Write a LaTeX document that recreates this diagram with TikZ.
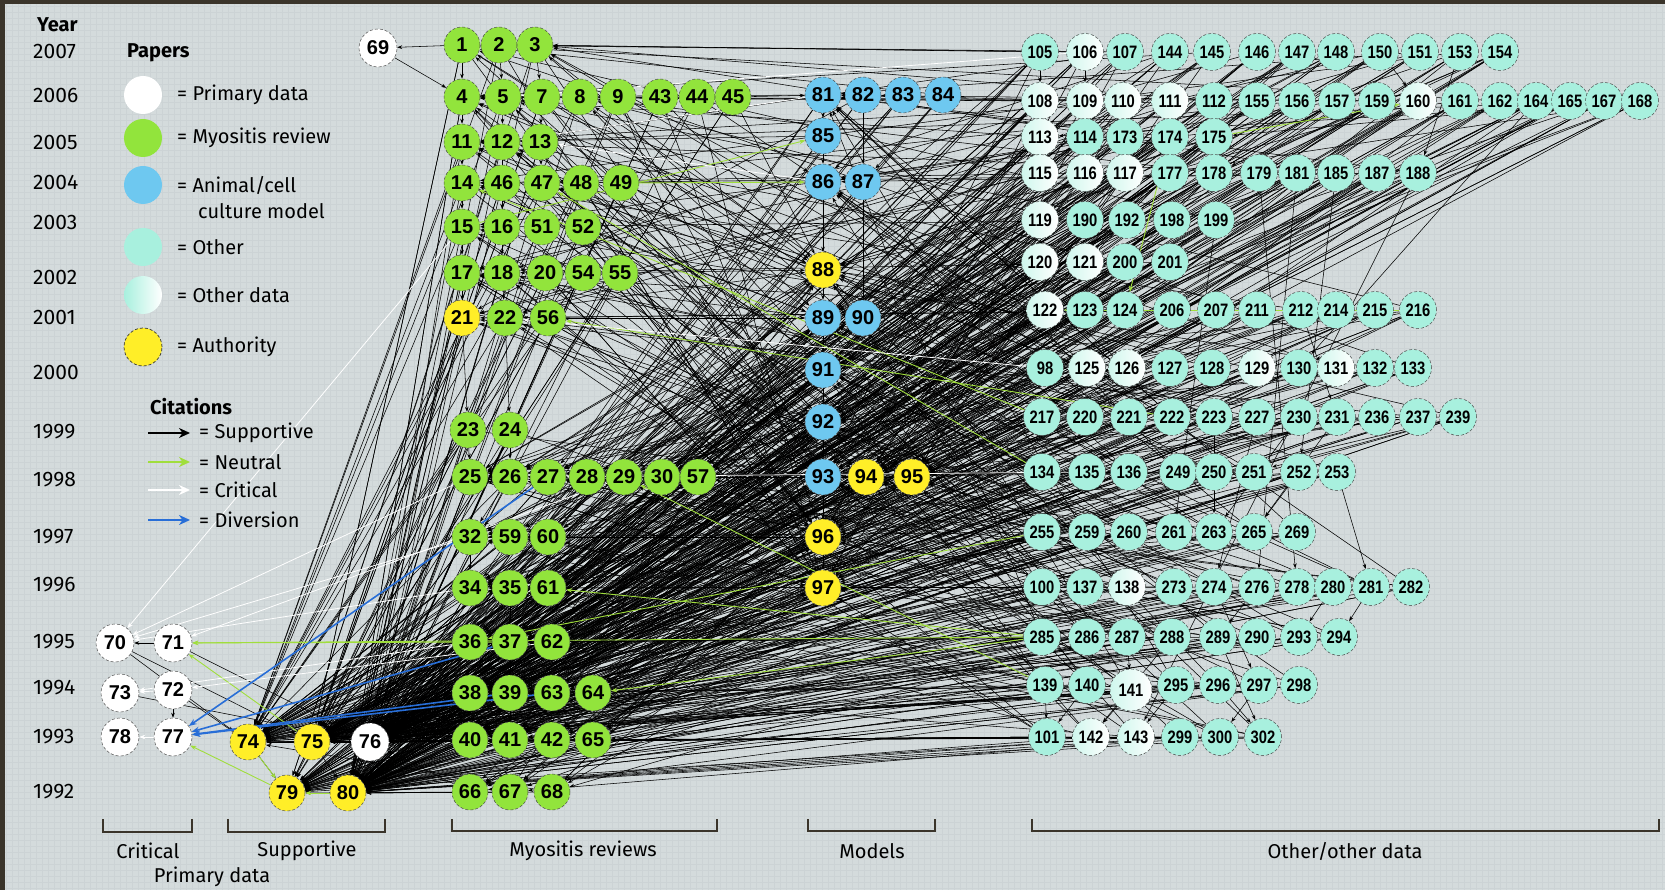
\documentclass[tikz,border=0pt]{standalone}
\usepackage{fontspec}
\setmainfont{Fira Sans}
\newfontfamily\numf{Liberation Sans}
\newfontfamily\numc{Liberation Sans}[FakeStretch=0.82]
\usetikzlibrary{arrows.meta}
\definecolor{bgc}{RGB}{212,219,220}
\definecolor{gridc}{RGB}{204,211,213}
\definecolor{framec}{RGB}{58,52,42}
\definecolor{myoc}{RGB}{146,228,60}
\definecolor{mdlc}{RGB}{110,200,240}
\definecolor{othc}{RGB}{168,240,222}
\definecolor{autc}{RGB}{255,238,40}
\definecolor{neuc}{RGB}{160,222,60}
\definecolor{divc}{RGB}{40,110,215}
\pgfdeclarelayer{bg}
\pgfdeclarelayer{edges}
\pgfsetlayers{bg,edges,main}
\newcommand\mkp[4]{\node[#1] (n#2) at (#3,#4) {#2};}
\tikzset{
  pap/.style={circle, minimum size=36pt, inner sep=0pt, draw=black!70, densely dashed, line width=0.5pt, font=\numf\bfseries\fontsize{20}{20}\selectfont},
  myo/.style={pap, fill=myoc},
  mdl/.style={pap, fill=mdlc},
  aut/.style={pap, fill=autc},
  pri/.style={pap, fill=white, minimum size=38pt},
  oth/.style={pap, fill=othc, minimum size=37pt, font=\numc\bfseries\fontsize{18}{18}\selectfont},
  odat/.style={oth, left color=othc!55, right color=white},
  sup/.style={black, line width=0.55pt, -{Stealth[length=5pt,width=3.6pt]}},
  neu/.style={neuc, line width=0.9pt, -{Stealth[length=6pt,width=4.5pt]}},
  cri/.style={white, line width=0.8pt, -{Stealth[length=6pt,width=4.5pt]}},
  dvr/.style={divc, line width=1.6pt, -{Stealth[length=8pt,width=6pt]}},
  yr/.style={anchor=west, font=\fontsize{21}{21}\selectfont, inner sep=0pt},
  lgtxt/.style={anchor=west, font=\fontsize{20}{20}\selectfont, inner sep=0pt},
  hdr/.style={anchor=west, font=\bfseries\fontsize{20}{20}\selectfont, inner sep=0pt},
  lgc/.style={circle, minimum size=38pt, inner sep=0pt},
  brk/.style={line width=1.6pt, framec},
  brl/.style={font=\fontsize{20}{20}\selectfont, inner sep=0pt},
}
\def\GL{1,2,3,4,5,7,8,9,43,44,45,11,12,13,14,46,47,48,49,15,16,51,52,17,18,20,54,55,21,22,56,23,24,25,26,27,28,29,30,57,32,59,60,34,35,61,36,37,62,38,39,63,64,40,41,42,65,66,67,68}
\def\RL{105,106,107,144,145,146,147,148,150,151,153,154,108,109,110,111,112,155,156,157,159,160,161,162,164,165,167,168,113,114,173,174,175,115,116,117,177,178,179,181,185,187,188,119,190,192,198,199,120,121,200,201,122,123,124,206,207,211,212,214,215,216,98,125,126,127,128,129,130,131,132,133,217,220,221,222,223,227,230,231,236,237,239,134,135,136,249,250,251,252,253,255,259,260,261,263,265,269,100,137,138,273,274,276,278,280,281,282,285,286,287,288,289,290,293,294,139,140,141,295,296,297,298,101,142,143,299,300,302}
\begin{document}
\begin{tikzpicture}[x=1pt,y=-1pt]
\useasboundingbox (0,0) rectangle (1665,890);
\begin{pgfonlayer}{bg}
\fill[framec] (0,0) rectangle (1665,890);
\fill[bgc] (5,4) rectangle (1665,890);
\draw[gridc, line width=0.3pt, step=6pt] (5,4) grid (1665,890);
\end{pgfonlayer}

% ---------- year axis ----------
\node[hdr] (yh) at (37,25) {Year};
\foreach \y/\v in {2007/52,2006/95,2005/142,2004/182,2003/222,2002/277,2001/317,2000/372,1999/432,1998/480,1997/537,1996/585,1995/642,1994/688,1993/737,1992/792}
  {\node[yr] (y\y) at (33,\v) {\y};}

% ---------- legend ----------
\node[hdr] (lpap) at (127,53) {Papers};
\node[lgc, fill=white] (lc1) at (143,95) {};
\node[lgc, fill=myoc] (lc2) at (143,138) {};
\node[lgc, fill=mdlc] (lc3) at (143,185) {};
\node[lgc, fill=othc] (lc4) at (143,247) {};
\node[lgc, left color=othc, right color=white] (lc5) at (143,295) {};
\node[lgc, fill=autc, draw=black!80, densely dashed, line width=0.7pt] (lc6) at (143,347) {};
\node[lgtxt] (lt1) at (177,95) {= Primary data};
\node[lgtxt] (lt2) at (177,138) {= Myositis review};
\node[lgtxt] (lt3) at (177,185) {= Animal/cell};
\node[lgtxt] (lt3b) at (198,211) {culture model};
\node[lgtxt] (lt4) at (177,247) {= Other};
\node[lgtxt] (lt5) at (177,295) {= Other data};
\node[lgtxt] (lt6) at (177,347) {= Authority};
\node[hdr] (lcit) at (150,407) {Citations};
\foreach \k/\v/\c/\t in {1/433/black/Supportive,2/462/neuc/Neutral,3/490/white/Critical,4/520/divc/Diversion}{
  \coordinate (la\k) at (148,\v);
  \coordinate (lb\k) at (190,\v);
  \draw[\c, line width=2.6pt, -{Stealth[length=11pt,width=10pt]}] (la\k) -- (lb\k);
  \node[lgtxt] (lg\k) at (199,\v) {= \t};
}

% ---------- primary data ----------
\mkp{pri}{69}{378}{48}
\mkp{pri}{70}{115}{643}
\mkp{pri}{71}{173}{643}
\mkp{pri}{73}{120}{693}
\mkp{pri}{72}{173}{690}
\mkp{pri}{78}{120}{737}
\mkp{pri}{77}{173}{737}
\mkp{aut}{74}{248}{742}
\mkp{aut}{75}{312}{742}
\mkp{pri}{76}{370}{742}
\mkp{aut}{79}{287}{793}
\mkp{aut}{80}{348}{793}

% ---------- myositis reviews ----------
\foreach \n/\x in {1/462,2/499,3/535} {\mkp{myo}{\n}{\x}{45}}
\foreach \n/\x in {4/462,5/503,7/542,8/580,9/618,43/660,44/697,45/733} {\mkp{myo}{\n}{\x}{97}}
\foreach \n/\x in {11/462,12/502,13/540} {\mkp{myo}{\n}{\x}{142}}
\foreach \n/\x in {14/462,46/502,47/542,48/581,49/621} {\mkp{myo}{\n}{\x}{183}}
\foreach \n/\x in {15/462,16/502,51/542,52/583} {\mkp{myo}{\n}{\x}{227}}
\foreach \n/\x in {17/462,18/502,20/545,54/583,55/620} {\mkp{myo}{\n}{\x}{273}}
\mkp{aut}{21}{462}{318}
\foreach \n/\x in {22/505,56/548} {\mkp{myo}{\n}{\x}{318}}
\foreach \n/\x in {23/468,24/510} {\mkp{myo}{\n}{\x}{430}}
\foreach \n/\x in {25/470,26/510,27/548,28/587,29/624,30/662,57/698} {\mkp{myo}{\n}{\x}{477}}
\foreach \n/\x in {32/470,59/510,60/548} {\mkp{myo}{\n}{\x}{537}}
\foreach \n/\x in {34/470,35/510,61/548} {\mkp{myo}{\n}{\x}{588}}
\foreach \n/\x in {36/470,37/510,62/552} {\mkp{myo}{\n}{\x}{642}}
\foreach \n/\x in {38/470,39/510,63/552,64/593} {\mkp{myo}{\n}{\x}{693}}
\foreach \n/\x in {40/470,41/510,42/552,65/593} {\mkp{myo}{\n}{\x}{740}}
\foreach \n/\x in {66/470,67/510,68/552} {\mkp{myo}{\n}{\x}{792}}

% ---------- models ----------
\foreach \n/\x in {81/823,82/863,83/903,84/943} {\mkp{mdl}{\n}{\x}{95}}
\mkp{mdl}{85}{823}{136}
\mkp{mdl}{86}{823}{182}
\mkp{mdl}{87}{863}{182}
\mkp{aut}{88}{823}{270}
\mkp{mdl}{89}{823}{318}
\mkp{mdl}{90}{863}{318}
\mkp{mdl}{91}{823}{370}
\mkp{mdl}{92}{823}{422}
\mkp{mdl}{93}{823}{477}
\mkp{aut}{94}{866}{477}
\mkp{aut}{95}{912}{477}
\mkp{aut}{96}{823}{537}
\mkp{aut}{97}{823}{588}

% ---------- other / other data ----------
\foreach \n/\x/\s in {105/1040/oth,106/1085/odat,107/1125/oth,144/1170/oth,145/1212/oth,146/1257/oth,147/1297/oth,148/1336/oth,150/1380/oth,151/1420/oth,153/1460/oth,154/1500/oth} {\mkp{\s}{\n}{\x}{52}}
\foreach \n/\x/\s in {108/1040/odat,109/1085/odat,110/1123/odat,111/1170/odat,112/1214/oth,155/1257/oth,156/1297/oth,157/1337/oth,159/1377/oth,160/1418/odat,161/1460/oth,162/1500/oth,164/1536/oth,165/1570/oth,167/1604/oth,168/1640/oth} {\mkp{\s}{\n}{\x}{101}}
\foreach \n/\x/\s in {113/1040/odat,114/1085/oth,173/1125/oth,174/1170/oth,175/1214/oth} {\mkp{\s}{\n}{\x}{137}}
\foreach \n/\x/\s in {115/1040/odat,116/1085/odat,117/1125/odat,177/1170/oth,178/1214/oth,179/1259/oth,181/1297/oth,185/1336/oth,187/1377/oth,188/1418/oth} {\mkp{\s}{\n}{\x}{173}}
\foreach \n/\x/\s in {119/1040/odat,190/1085/oth,192/1127/oth,198/1172/oth,199/1216/oth} {\mkp{\s}{\n}{\x}{220}}
\foreach \n/\x/\s in {120/1040/odat,121/1085/odat,200/1125/oth,201/1170/oth} {\mkp{\s}{\n}{\x}{262}}
\foreach \n/\x/\s in {122/1045/odat,123/1085/oth,124/1125/oth,206/1172/oth,207/1216/oth,211/1257/oth,212/1301/oth,214/1336/oth,215/1375/oth,216/1418/oth} {\mkp{\s}{\n}{\x}{310}}
\foreach \n/\x/\s in {98/1045/oth,125/1087/odat,126/1127/odat,127/1170/oth,128/1212/oth,129/1257/odat,130/1299/oth,131/1336/odat,132/1375/oth,133/1413/oth} {\mkp{\s}{\n}{\x}{368}}
\foreach \n/\x/\s in {217/1042/oth,220/1085/oth,221/1129/oth,222/1172/oth,223/1214/oth,227/1257/oth,230/1299/oth,231/1337/oth,236/1377/oth,237/1418/oth,239/1458/oth} {\mkp{\s}{\n}{\x}{417}}
\foreach \n/\x/\s in {134/1042/oth,135/1087/oth,136/1129/oth,249/1178/oth,250/1214/oth,251/1254/oth,252/1299/oth,253/1337/oth} {\mkp{\s}{\n}{\x}{472}}
\foreach \n/\x/\s in {255/1042/oth,259/1087/oth,260/1129/oth,261/1174/oth,263/1214/oth,265/1254/oth,269/1297/oth} {\mkp{\s}{\n}{\x}{532}}
\foreach \n/\x/\s in {100/1042/oth,137/1085/oth,138/1127/odat,273/1174/oth,274/1214/oth,276/1257/oth,278/1297/oth,280/1333/oth,281/1371/oth,282/1411/oth} {\mkp{\s}{\n}{\x}{587}}
\foreach \n/\x/\s in {285/1042/oth,286/1087/oth,287/1127/oth,288/1172/oth,289/1218/oth,290/1257/oth,293/1299/oth,294/1339/oth} {\mkp{\s}{\n}{\x}{637}}
\foreach \n/\x/\s in {139/1045/oth,140/1087/oth,295/1176/oth,296/1218/oth,297/1259/oth,298/1299/oth} {\mkp{\s}{\n}{\x}{685}}
\node[odat, minimum size=42pt] (n141) at (1131,690) {141};
\foreach \n/\x/\s in {101/1047/oth,142/1091/odat,143/1136/odat,299/1180/oth,300/1220/oth,302/1263/oth} {\mkp{\s}{\n}{\x}{737}}

% ---------- brackets ----------
\draw[brk] (103,819) -- (103,832) -- (192,832) -- (192,819);
\draw[brk] (228,819) -- (228,832) -- (385,832) -- (385,819);
\draw[brk] (452,819) -- (452,831) -- (717,831) -- (717,819);
\draw[brk] (808,819) -- (808,831) -- (935,831) -- (935,819);
\draw[brk] (1032,819) -- (1032,831) -- (1659,831) -- (1659,819);
\node[brl] (bt1) at (148,851) {Critical};
\node[brl] (bt2) at (307,851) {Supportive};
\node[brl] (bt3) at (212,877) {Primary data};
\node[brl] (bt4) at (583,851) {Myositis reviews};
\node[brl] (bt5) at (872,851) {Models};
\node[brl] (bt6) at (1345,851) {Other/other data};

% ---------- citations ----------
\begin{pgfonlayer}{edges}
\foreach \s [count=\i] in \RL {
  \pgfmathtruncatemacro\ta{{76,80,75,74,79,76,80}[mod(\i,7)]}
  \pgfmathtruncatemacro\tb{{88,93,96,97,94,95,92,91,89,86,81}[mod(\i,11)]}
  \pgfmathtruncatemacro\tc{{1,4,21,25,27,36,17,14,11,32,38,40,26,3,5,12,22,37,41,15,18,34,8,47}[mod(\i*5,24)]}
  \pgfmathtruncatemacro\td{{80,76,75}[mod(\i,3)]}
  \pgfmathtruncatemacro\te{{25,26,27,28,29,30,57,32,59,60,34,35,61,36,37,62,38,39,63,64,40,41,42,65,66,67,68}[mod(\i*7,27)]}
  \pgfmathtruncatemacro\tf{{74,75,76,79,80}[mod(\i*3,5)]}
  \draw[sup] (n\s) -- (n\ta);
  \draw[sup] (n\s) -- (n\tb);
  \draw[sup] (n\s) -- (n\tc);
  \draw[sup] (n\s) -- (n\td);
  \draw[sup] (n\s) -- (n\te);
  \draw[sup] (n\s) -- (n\tf);
}
\foreach \s [count=\i] in \GL {
  \pgfmathtruncatemacro\ta{{74,75,76,79,80}[mod(\i,5)]}
  \pgfmathtruncatemacro\tb{{80,76,75,80,74}[mod(\i*2,5)]}
  \pgfmathtruncatemacro\tc{{93,96,97,88,94,95,92,89}[mod(\i,8)]}
  \draw[sup] (n\s) -- (n\ta);
  \draw[sup] (n\s) -- (n\tb);
  \draw[sup] (n\s) -- (n\tc);
}
\foreach \s in {81,82,83,84,85,86,87,88,89,90,91,92,93,94,95,96,97} {
  \draw[sup] (n\s) -- (n80);
  \draw[sup] (n\s) -- (n76);
}
\foreach \s/\t in {1/4,2/5,3/7,4/11,21/23,22/24,17/21,5/12,12/16,14/15,15/17,26/32,35/37,24/26,11/14,18/22,23/25,32/34,37/39,39/41,16/18,13/47,46/51,7/13,
  81/85,85/86,86/88,88/89,89/91,91/92,92/93,93/96,96/97,87/90,82/87,83/86,84/87,
  81/4,82/21,83/27,84/1,85/11,86/14,88/25,89/17,90/36,91/32,92/38,93/40,94/26,95/37,96/41,97/66,
  1/88,3/93,4/96,7/93,43/88,45/81,44/86,9/97,14/93,47/96,17/93,20/97,21/88,22/96,25/97,55/93,49/88,52/96,56/89,
  105/108,106/109,150/160,153/188,154/178,167/175,168/113,165/124,164/130,188/143,216/130,253/281,252/265,239/251,231/265,230/263,227/274,212/231,281/294,280/293,276/289,274/297,289/302,296/302,295/143,288/142,287/141,141/142,140/101,139/101,297/300,223/263,199/261,185/252,181/276,179/278,
  1/69,69/4,105/3,106/1,107/2,108/4,108/81,109/82,
  71/70,70/74,70/75,72/74,73/76,71/76,75/74,76/75,74/79,76/80,75/80,72/77}
  {\draw[sup] (n\s) -- (n\t);}
\foreach \s/\t in {285/71,37/71,75/71,74/79,80/79,79/77,175/160,216/122,49/86,15/85,285/61,139/29,217/14,134/47,222/56,255/36,285/64,174/124}
  {\draw[neu] (n\s) -- (n\t);}
\foreach \s/\t in {25/70,32/70,15/70,34/70,29/71,36/73,77/78,72/73,81/12,86/13,135/27,98/22,106/5,62/72}
  {\draw[cri] (n\s) -- (n\t);}
\foreach \s in {27,37,39,63}
  {\draw[dvr] (n\s) -- (n77);}
\end{pgfonlayer}
\end{tikzpicture}
\end{document}
